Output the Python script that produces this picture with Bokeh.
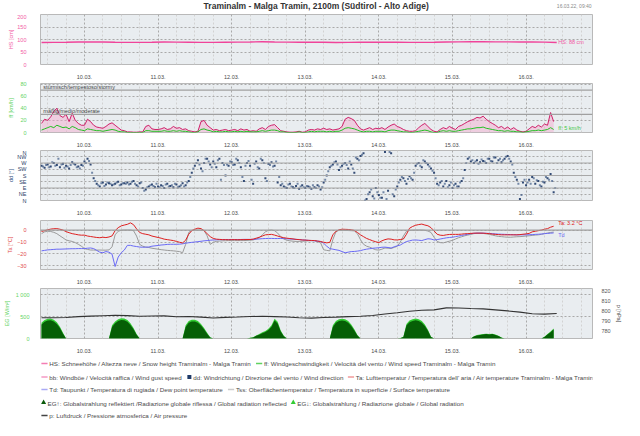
from bokeh.plotting import figure
from bokeh.layouts import column
from bokeh.models import Range1d, LinearAxis, FixedTicker, Span, Label
from bokeh.core.properties import value
from bokeh.embed import file_html
from bokeh.resources import INLINE

FONT = "Liberation Sans"
TICK_FS = "5.5px"

# ---------------- data ----------------
# hours since 10.03. 00:00 (hourly 9.03. 10:00 ... 16.03. 09:00)
hours = list(range(-14, 154))
# half-hour offsets for the second set of wind-direction readings
hours_half = [h + 0.5 for h in hours]
# 4-hourly time base for the smooth series
hours4 = list(range(-14, 155, 4))

day_ticks = [0, 24, 48, 72, 96, 120, 144]
day_labels = ["10.03.", "11.03.", "12.03.", "13.03.", "14.03.", "15.03.", "16.03."]
six_hours = [-12, -6, 6, 12, 18, 30, 36, 42, 54, 60, 66, 78, 84, 90, 102, 108, 114,
             126, 132, 138, 150, 156, 162]

hs = [88, 88.5, 89, 90, 90.5, 90, 89, 88.5, 88.5, 89, 90, 89.5, 89, 88.5, 88.5, 89,
      89.5, 90, 91, 90, 89.5, 89, 89.5, 89, 88, 88.5, 89, 89.5, 89, 89, 88.5, 88.5,
      89, 90, 90.5, 91, 91, 90.5, 90.5, 90, 90, 89.5, 88]

pres = [792.7, 792.7, 793.0, 793.9, 794.4, 794.8, 795.2, 794.9, 794.2, 794.5, 794.6,
        793.8, 794.0, 793.4, 792.5, 793.1, 793.5, 794.0, 794.2, 793.9, 793.5, 792.8,
        792.4, 793.0, 793.4, 793.9, 794.2, 795.0, 796.5, 797.7, 799.2, 800.2, 800.6,
        802.6, 802.5, 802.0, 801.6, 800.6, 799.6, 798.4, 796.8, 796.4, 797.0]

bb = [15, 22, 20, 26, 35, 40, 28, 25, 30, 18, 32, 20, 15, 12,
      12, 22, 18, 12, 9, 8, 7, 10, 14, 16, 12, 8, 4, 3, 1, 1, 0.5, 0.5, 1, 1, 10, 12, 6, 5,
      5, 6, 8, 5, 6, 10, 7, 8, 5, 6, 3, 2, 1, 2, 18, 20, 12, 8, 4, 5, 3, 4, 5, 3,
      4, 5, 3, 6, 4, 5, 2, 3, 2, 6, 8, 5, 10, 12, 13, 8, 3, 2, 1, 0.5, 0.5, 1, 2, 0.5,
      1, 4, 5, 4, 6, 5, 7, 5, 6, 4, 5, 6, 10, 22, 25, 23, 20, 12, 6, 4, 6, 8, 5, 7,
      6, 8, 5, 9, 12, 14, 10, 8, 5, 3, 2, 2, 3, 8, 12, 15, 10, 5, 2, 1, 5, 8, 6, 10,
      7, 5, 10, 12, 15, 18, 20, 22, 25, 24, 27, 22, 18, 15, 12, 8, 10, 6, 9, 5, 8, 4, 2, 1,
      2, 6, 10, 8, 12, 9, 14, 12, 33, 18]

ff = [4, 6, 8, 10, 8, 12, 10, 8, 9, 6, 10, 8, 5, 4,
      3, 6, 5, 4, 3, 3, 2, 3, 4, 5, 4, 2, 1, 1, 0, 0, 0, 0, 0, 0, 3, 3, 2, 2,
      2, 2, 3, 2, 2, 3, 2, 3, 2, 2, 1, 0, 0, 1, 5, 6, 4, 3, 1, 2, 1, 1, 2, 1,
      1, 2, 1, 2, 1, 2, 1, 1, 1, 2, 3, 2, 3, 4, 4, 3, 1, 1, 0, 0, 0, 0, 1, 0,
      0, 1, 2, 1, 2, 2, 2, 1, 2, 1, 2, 2, 4, 7, 8, 7, 6, 4, 2, 1, 2, 2, 1, 2,
      2, 2, 1, 3, 4, 4, 3, 2, 1, 1, 0, 0, 1, 2, 3, 4, 3, 1, 0, 0, 2, 3, 2, 3,
      2, 2, 3, 4, 5, 6, 6, 7, 8, 8, 9, 7, 6, 5, 4, 3, 3, 2, 3, 2, 2, 1, 1, 0,
      1, 2, 3, 3, 4, 3, 4, 5, 8, 5]

dd = [250, 235, 260, 245, 270, 255, 240, 265, 250, 230, 275, 260, 245, 255,
      280, 300, 260, 160, 120, 100, 130, 115, 125, 110, 120, 135, 115, 125, 130, 120,
      140, 110, 125, 90, 80, 100, 115, 95,
      100, 110, 90, 120, 105, 95, 115, 100, 125, 110, 140, 200, 250, 290, 230, 270,
      300, 260, 280, 240, 300, 270, 180, 250,
      275, 260, 290, 240, 140, 270, 250, 120, 280, 230, 290, 160, 265, 275, 250, 130,
      110, 100, 90, 120, 95, 105, 85, 110,
      90, 100, 85, 95, 110, 80, 130, 180, 240, 260, 280, 220, 250, 270, 230, 260,
      200, 300, 320, 340, 10, 60, 30, 90,
      40, 20, 350, 70, 340, 30, 100, 150, 160, 120, 175, 150, 250, 270, 240, 280,
      260, 230, 200, 120, 130, 100, 140, 110,
      90, 120, 100, 140, 220, 300, 280, 270, 290, 275, 285, 270, 300, 280, 310, 290,
      275, 300, 320, 280, 200, 150, 10, 130,
      110, 150, 170, 120, 140, 100, 130, 160, 190, 60]

dd_half = [245, 255, 240, 275, 250, 300, 260, 235, 245, 255, 265, 240, 230, 250,
           270, 285, 200, 140, 110, 125, 105, 130, 120, 115, 130, 110, 125, 120, 115, 135,
           120, 100, 130, 70, 95, 110, 105, 120,
           95, 105, 115, 100, 110, 120, 95, 110, 100, 130, 170, 230, 270, 260, 210, 300,
           280, 240, 265, 290, 150, 255, 260, 280,
           255, 300, 270, 170, 250, 285, 150, 265, 240, 300, 270, 140, 255, 245, 280, 170,
           120, 95, 115, 100, 90, 120, 100, 95,
           105, 95, 110, 90, 100, 95, 150, 210, 250, 275, 260, 240, 265, 255, 280, 230,
           310, 290, 330, 0, 45, 80, 15, 60,
           20, 60, 10, 350, 45, 80, 130, 170, 140, 155, 160, 200, 265, 250, 290, 270,
           245, 215, 160, 110, 140, 120, 95, 130,
           110, 100, 130, 160, 270, 310, 290, 280, 265, 295, 280, 300, 285, 310, 270, 300,
           290, 315, 300, 260, 170, 120, 40, 150,
           130, 120, 160, 145, 110, 135, 170, 150, 140, 90]

ta = [-1.2, -0.5, 0.2, 0.8, 1.1, 1.2, 0.7, 0.0, -1.3, -2.2, -3.0, -3.5, -4.0, -4.3,
      -4.2, -5.0, -5.4, -5.8, -6.2, -6.4, -6.0, -6.3, -5.8, -4.9, -0.5, 2.0, 3.5, 4.2,
      4.8, 6.0, 4.5, 1.0, -2.0, -3.0, -3.5, -4.0, -5.0, -5.6,
      -6.2, -6.8, -7.6, -8.0, -8.4, -8.8, -9.5, -10.2, -10.8, -8.5, -3.5, -0.5, 0.7, 1.6,
      1.2, -0.5, -3.0, -5.5, -7.0, -7.6, -7.8, -8.0, -8.0, -8.1,
      -8.0, -8.0, -8.1, -8.0, -8.0, -7.9, -7.9, -7.6, -6.8, -6.0, -5.0, -4.0, -3.8, -3.6,
      -4.2, -5.0, -5.8, -6.4, -6.8, -7.1, -7.4, -7.8, -8.0, -8.3,
      -8.4, -8.6, -8.7, -8.8, -9.2, -9.6, -10.2, -10.7, -10.3, -4.0, -1.0, 0.2, 0.7, 0.6,
      0.5, 0.2, -0.3, -2.0, -4.0, -5.5, -7.0, -8.0, -9.0, -9.8,
      -10.5, -9.0, -8.0, -7.4, -7.6, -8.2, -8.3, -7.9, -7.5, -3.5, 1.5, 3.0, 4.0, 4.6,
      5.0, 4.2, 3.6, 2.0, -0.7, -3.5, -4.3, -4.5, -4.0, -3.7,
      -3.6, -3.6, -3.6, -3.4, -3.1, -3.0, -2.8, -2.6, -2.6, -2.6, -2.6, -2.8, -3.0, -3.4,
      -3.6, -3.8, -4.0, -4.0, -4.0, -4.0, -4.0, -4.0, -3.8, -3.5,
      -3.2, -2.8, -1.5, -1.0, -0.5, 0.0, 0.7, 1.2, 2.4, 3.2]

td = [-17.4, -17.0, -16.6, -16.4, -16.2, -16.0, -16.0, -15.9, -15.8, -15.7, -15.6, -15.6,
      -15.5, -15.5,
      -15.5, -15.2, -15.0, -15.5, -17.0, -18.5, -19.0, -18.0, -18.5, -20.2, -30.5, -22.6,
      -19.0, -16.7, -12.8, -12.8, -13.4, -13.8, -14.2, -14.4, -14.3, -14.2, -13.5, -13.2,
      -12.9, -12.5, -12.3, -12.0, -11.9, -11.9, -11.9, -11.8, -11.5, -11.0, -10.6, -10.3,
      -10.0, -9.7, -9.4, -9.0, -8.8, -8.5, -8.3, -8.2, -8.0, -8.0, -7.9, -7.9,
      -7.9, -7.9, -7.9, -7.9, -7.8, -7.8, -7.8, -7.8, -7.6, -7.4, -7.2, -7.1, -7.0, -7.0,
      -7.1, -7.1, -7.0, -7.1, -7.3, -7.5, -7.6, -7.8, -7.9, -8.2,
      -8.4, -8.6, -8.8, -9.0, -9.3, -9.5, -11.0, -13.5, -15.5, -16.0, -16.5, -17.0, -18.0,
      -19.0, -18.5, -18.0, -17.9, -17.6, -17.2, -16.5, -16.0, -15.6, -15.2, -15.0,
      -14.8, -14.4, -14.3, -14.6, -15.0, -14.0, -13.2, -12.5, -11.0, -9.6, -9.0, -8.4,
      -8.3, -8.5, -8.8, -8.0, -7.3, -7.5, -8.3, -8.0, -7.5, -7.0, -6.5, -6.2,
      -6.0, -5.5, -5.0, -4.5, -4.0, -3.5, -3.0, -2.7, -2.6, -2.6, -2.6, -2.7, -2.8, -3.0,
      -3.2, -3.4, -3.5, -3.6, -3.7, -3.8, -3.9, -4.0, -4.0, -4.0,
      -4.0, -3.9, -3.8, -3.6, -3.5, -3.3, -3.0, -2.8, -2.6, -2.4]

tss = [-3.0, -1.5, -1.0, -1.2, -1.9, -3.0, -4.8, -6.5, -8.3, -9.0, -9.5, -10.5, -11.9, -13.5,
       -15.5, -16.2, -16.7, -16.7, -16.8, -16.7, -16.8, -16.8, -16.6, -14.0, -4.0, -1.0,
       -0.2, 0.0, 0.0, 0.0, -0.5, -5.0, -12.0, -13.5, -14.3, -14.6, -15.2, -15.6,
       -16.0, -16.4, -16.7, -17.0, -17.2, -17.4, -17.7, -18.0, -19.0, -12.0, -2.0, -0.2,
       0.0, 0.0, -0.1, -0.3, -4.8, -12.0, -10.2, -9.5, -9.2, -9.0, -8.9, -8.8,
       -8.8, -8.8, -8.8, -8.8, -8.8, -8.7, -8.5, -8.3, -7.5, -6.4, -4.0, -1.5, -0.2, 0.0,
       -0.5, -2.5, -5.5, -7.5, -8.5, -9.0, -9.3, -9.5, -9.5, -9.4,
       -9.2, -9.0, -8.9, -8.8, -9.5, -10.7, -16.5, -17.0, -17.4, -8.0, -1.5, -0.2, -0.2,
       -0.3, -0.4, -0.5, -0.7, -3.0, -8.0, -11.9, -13.5, -14.3, -15.5, -16.5,
       -16.8, -16.0, -15.0, -15.2, -15.5, -14.5, -13.6, -10.0, -5.0, -1.0, -0.3, -0.1,
       0.0, 0.0, 0.0, -0.2, -0.8, -2.0, -6.0, -9.5, -10.5, -10.7, -10.0, -9.3,
       -8.6, -7.5, -6.4, -5.6, -4.8, -4.2, -3.6, -3.0, -2.6, -2.6, -2.8, -3.2, -3.6, -4.2,
       -4.8, -5.3, -5.5, -5.8, -6.0, -6.0, -5.8, -5.6, -5.5, -5.3,
       -5.0, -4.8, -4.5, -4.2, -4.0, -3.6, -3.0, -2.5, -2.0, -1.7]

eg = [360, 420, 450, 455, 430, 370, 270, 130, 0, 0, 0, 0, 0, 0,
      0, 0, 0, 0, 0, 0, 0, 0, 0, 300, 390, 440, 460, 455, 420, 350, 240, 100,
      0, 0, 0, 0, 0, 0,
      0, 0, 0, 0, 0, 0, 0, 0, 0, 300, 400, 430, 430, 400, 330, 240, 130, 30,
      0, 0, 0, 0, 0, 0,
      0, 0, 0, 0, 0, 0, 15, 30, 70, 100, 140, 170, 220, 300, 450, 380, 180, 60,
      0, 0, 0, 0, 0, 0,
      0, 0, 0, 0, 0, 0, 0, 0, 0, 300, 400, 440, 450, 440, 400, 320, 210, 80,
      0, 0, 0, 0, 0, 0,
      0, 0, 0, 0, 0, 0, 0, 10, 40, 330, 410, 440, 455, 440, 400, 320, 200, 40,
      0, 0, 0, 0, 0, 0,
      0, 0, 0, 0, 0, 0, 0, 50, 80, 90, 100, 110, 100, 110, 90, 60, 20,
      0, 0, 0, 0, 0, 0, 0,
      0, 0, 0, 0, 0, 0, 40, 100, 160, 230]

eg_refl = [320, 380, 410, 415, 390, 330, 240, 110, 0, 0, 0, 0, 0, 0,
           0, 0, 0, 0, 0, 0, 0, 0, 0, 260, 350, 400, 420, 415, 380, 310, 210, 85,
           0, 0, 0, 0, 0, 0,
           0, 0, 0, 0, 0, 0, 0, 0, 0, 265, 360, 390, 390, 360, 295, 210, 110, 25,
           0, 0, 0, 0, 0, 0,
           0, 0, 0, 0, 0, 0, 12, 25, 60, 85, 120, 150, 195, 270, 410, 340, 160, 50,
           0, 0, 0, 0, 0, 0,
           0, 0, 0, 0, 0, 0, 0, 0, 0, 265, 360, 400, 410, 400, 360, 285, 185, 70,
           0, 0, 0, 0, 0, 0,
           0, 0, 0, 0, 0, 0, 0, 8, 35, 295, 370, 400, 415, 400, 360, 285, 175, 35,
           0, 0, 0, 0, 0, 0,
           0, 0, 0, 0, 0, 0, 0, 45, 70, 80, 90, 100, 90, 100, 80, 55, 18,
           0, 0, 0, 0, 0, 0, 0,
           0, 0, 0, 0, 0, 0, 35, 90, 145, 210]

dd_ticks = [0, 45, 90, 135, 180, 225, 270, 315, 360]
dd_labels = ["N", "NE", "E", "SE", "S", "SW", "W", "NW", "N"]

title_text = "Traminalm - Malga Tramin, 2100m (Südtirol - Alto Adige)"
stamp_text = "16.03.22, 09:40"

legend_rows = [
    [("line", "#f47db4", "HS: Schneehöhe / Altezza neve / Snow height  Traminalm - Malga Tramin"),
     ("line", "#5fd35f", "ff: Windgeschwindigkeit / Velocità del vento / Wind speed  Traminalm - Malga Tramin")],
    [("line", "#f49ac4", "bb: Windböe / Velocità raffica / Wind gust speed"),
     ("square", "#1f3a68", "dd: Windrichtung / Direzione del vento / Wind direction"),
     ("line", "#f09a9a", "Ta: Lufttemperatur / Temperatura dell' aria / Air temperature  Traminalm - Malga Tramin")],
    [("line", "#aaaaf5", "Td: Taupunkt / Temperatura di rugiada / Dew point temperature"),
     ("line", "#cccccc", "Tss: Oberflächentemperatur / Temperatura in superficie / Surface temperature")],
    [("triangle", "#0a5a0a", "EG↑: Globalstrahlung reflektiert /Radiazione globale riflessa / Global radiation reflected"),
     ("triangle", "#33cc33", "EG↓: Globalstrahlung / Radiazione globale / Global radiation")],
    [("line", "#444444", "p: Luftdruck / Pressione atmosferica / Air pressure")],
]

# approximate Arial/Liberation Sans advance widths (1/1000 em) for legend flow layout
CHAR_W = {' ': 278, "'": 191, '(': 333, ')': 333, ',': 278, '-': 333, '.': 278, '/': 278,
          ':': 278, 'A': 667, 'D': 722, 'E': 667, 'G': 778, 'H': 722, 'L': 556, 'M': 833,
          'O': 778, 'P': 667, 'R': 722, 'S': 667, 'T': 611, 'V': 667, 'W': 944,
          'a': 556, 'b': 556, 'c': 500, 'd': 556, 'e': 556, 'f': 278, 'g': 556, 'h': 556,
          'i': 222, 'j': 222, 'k': 500, 'l': 222, 'm': 833, 'n': 556, 'o': 556, 'p': 556,
          'q': 556, 'r': 333, 's': 500, 't': 278, 'u': 556, 'v': 500, 'w': 722, 'x': 500,
          'y': 500, 'z': 500, 'ä': 556, 'ö': 556, 'ü': 556, 'à': 556, 'ß': 611,
          '↑': 1000, '↓': 1000}
RENDER_FUDGE = 1.09   # small-size glyph advances render wider than nominal metrics
SYM_W = {"line": 10, "square": 8, "triangle": 8}
ITEM_GAP = 10


def text_em(s):
    return sum(CHAR_W.get(c, 556) for c in s) / 1000.0 * RENDER_FUDGE


# font size so that the widest legend row spans about 620 px
fits = []
for items in legend_rows:
    fixed = sum(SYM_W[k] for k, _, _ in items) + ITEM_GAP * (len(items) - 1)
    ems = sum(text_em(t) for _, _, t in items)
    fits.append((620 - fixed) / ems)
LEG_FS = round(min(6.6, min(fits)), 2)

# ---------------- layout helpers ----------------
X0, X1 = -14.333, 165.667


def panel(height, top, y0, y1, yticks, ylabel, color, lab_standoff, tick_standoff=8):
    p = figure(width=624, height=height, x_range=Range1d(X0, X1), y_range=Range1d(y0, y1),
               output_backend="svg", toolbar_location=None,
               min_border_left=32, min_border_right=31, min_border_top=top,
               min_border_bottom=12)
    p.background_fill_color = "#e9edf0"
    p.border_fill_color = "white"
    p.outline_line_color = "#b9b9b9"
    xa = p.xaxis[0]
    xa.ticker = FixedTicker(ticks=day_ticks, minor_ticks=six_hours)
    xa.major_label_overrides = dict(zip(day_ticks, day_labels))
    xa.axis_line_color = None
    xa.major_tick_line_color = None
    xa.minor_tick_line_color = None
    xa.major_label_standoff = 4
    xa.major_label_text_font = FONT
    xa.major_label_text_font_size = TICK_FS
    xa.major_label_text_color = "#4a4a4a"
    ya = p.yaxis[0]
    ya.ticker = FixedTicker(ticks=yticks)
    ya.axis_line_color = None
    ya.major_tick_line_color = None
    ya.minor_tick_line_color = None
    ya.major_label_standoff = tick_standoff
    ya.major_label_text_font = FONT
    ya.major_label_text_font_size = TICK_FS
    ya.major_label_text_color = color
    ya.axis_label = ylabel
    ya.axis_label_text_font = FONT
    ya.axis_label_text_font_size = TICK_FS
    ya.axis_label_text_font_style = "normal"
    ya.axis_label_text_color = color
    ya.axis_label_standoff = lab_standoff
    p.xgrid.grid_line_color = "#a9a9a9"
    p.xgrid.grid_line_dash = "2 2"
    p.xgrid.minor_grid_line_color = "#d2d2d2"
    p.xgrid.minor_grid_line_dash = "2 2"
    p.ygrid.grid_line_color = "#a9a9a9"
    p.ygrid.grid_line_dash = "2 2"
    return p


def side_label(p, x, y, text, color):
    p.add_layout(Label(x=x, y=y, text=text, text_font=FONT, text_font_size=TICK_FS,
                       text_color=color, text_baseline="middle", text_align="left"))


# ---------------- top strip: title + timestamp ----------------
top = figure(width=624, height=14, x_range=Range1d(0, 624), y_range=Range1d(0, 14),
             output_backend="svg", toolbar_location=None, min_border=0,
             x_axis_location=None, y_axis_location=None)
top.outline_line_color = None
top.background_fill_color = "white"
top.xgrid.visible = False
top.ygrid.visible = False
top.text(x=[312], y=[8.2], text=[title_text], text_font=value(FONT),
         text_font_size=value("8.5px"), text_font_style="bold", text_color="#333333",
         text_align="center", text_baseline="middle")
top.text(x=[623], y=[9], text=[stamp_text], text_font=value(FONT),
         text_font_size=value("5px"), text_color="#8a8a8a",
         text_align="right", text_baseline="middle")

# ---------------- panel 1: snow height ----------------
p1 = panel(67, 0, 0, 200, [0, 50, 100, 150, 200], "HS [cm]", "#f25aa5", 0)
p1.line(hours4, hs, line_color="#f0449a", line_width=1.3)
side_label(p1, 154.5, 92, "HS: 88 cm", "#f25aa5")

# ---------------- panel 2: wind ----------------
p2 = panel(68, 2, 0, 81, [0, 20, 40, 60, 80], "ff [km/h]", "#5fd35f", 3)
for lvl in [30, 70]:
    p2.add_layout(Span(location=lvl, dimension="width", line_color="#a0a0a0", line_width=1.2))
p2.add_layout(Label(x=-13.4, y=71, text="stürmisch/tempestoso/stormy", text_font=FONT,
                    text_font_size=TICK_FS, text_color="#444444", text_baseline="bottom"))
p2.add_layout(Label(x=-13.4, y=31, text="mäßig/medio/moderate", text_font=FONT,
                    text_font_size=TICK_FS, text_color="#444444", text_baseline="bottom"))
p2.varea(x=hours, y1=0, y2=bb, fill_color="#f3a6ca", fill_alpha=0.45)
p2.line(hours, bb, line_color="#cc0a5a", line_width=0.9)
p2.line(hours, ff, line_color="#22c022", line_width=1)
side_label(p2, 154.5, 8, "ff: 5 km/h", "#44c844")

# ---------------- panel 3: wind direction ----------------
p3 = panel(68, 1, 0, 360, dd_ticks, "dd [°]", "#3b5a86", 0)
p3.yaxis[0].major_label_overrides = dict(zip(dd_ticks, dd_labels))
p3.yaxis[0].major_label_text_color = "#2c3e66"
for lvl in [90, 180, 270]:
    p3.add_layout(Span(location=lvl, dimension="width", line_color="#a8a8a8", line_width=1))
p3.scatter(hours, dd, marker="square", size=2, fill_color="#1f3a68",
           line_color=None, fill_alpha=0.9)
p3.scatter(hours_half, dd_half, marker="square", size=2, fill_color="#33507e",
           line_color=None, fill_alpha=0.65)

# ---------------- panel 4: temperatures ----------------
p4 = panel(69, 3, -33, 8, [-30, -20, -10, 0], "Ta [°C]", "#e04848", 1)
p4.add_layout(Span(location=0, dimension="width", line_color="#a0a0a0", line_width=1.2))
p4.line(hours, tss, line_color="#9a9a9a", line_width=1)
p4.line(hours, td, line_color="#6a6af5", line_width=1)
p4.line(hours, ta, line_color="#dd2020", line_width=1)
side_label(p4, 154.5, 5.7, "Ta: 3.2 °C", "#dd2020")
side_label(p4, 154.5, -4.3, "Td", "#6a6af5")

# ---------------- panel 5: radiation + pressure ----------------
p5 = panel(69, 2, 0, 1140, [0, 500, 1000], "EG [W/m²]", "#66d466", 3, tick_standoff=5)
p5.yaxis[0].major_label_overrides = {1000: "1 000"}
p5.extra_y_ranges = {"p": Range1d(772, 822)}
pax = LinearAxis(y_range_name="p", ticker=FixedTicker(ticks=[780, 790, 800, 810, 820]),
                 axis_label="p [hPa]")
pax.axis_line_color = None
pax.major_tick_line_color = None
pax.minor_tick_line_color = None
pax.major_label_standoff = 3
pax.major_label_text_font = FONT
pax.major_label_text_font_size = TICK_FS
pax.major_label_text_color = "#555555"
pax.axis_label_text_font = FONT
pax.axis_label_text_font_size = TICK_FS
pax.axis_label_text_font_style = "normal"
pax.axis_label_text_color = "#444444"
pax.axis_label_standoff = 2
p5.add_layout(pax, "right")
p5.varea(x=hours, y1=0, y2=eg, fill_color="#33cc33")
p5.varea(x=hours, y1=0, y2=eg_refl, fill_color="#065f06")
p5.line(hours4, pres, y_range_name="p", line_color="#333333", line_width=1.1)

# ---------------- legend ----------------
leg = figure(width=624, height=65, x_range=Range1d(0, 624), y_range=Range1d(0, 65),
             output_backend="svg", toolbar_location=None, min_border=0,
             x_axis_location=None, y_axis_location=None)
leg.outline_line_color = None
leg.background_fill_color = "white"
leg.xgrid.visible = False
leg.ygrid.visible = False
row_y = [57, 43.5, 31, 17.5, 5]
for ry, items in zip(row_y, legend_rows):
    x = 0
    for kind, col, txt in items:
        if kind == "line":
            leg.segment(x0=[x + 1], y0=[ry], x1=[x + 8], y1=[ry], line_color=col, line_width=1.5)
        elif kind == "square":
            leg.scatter([x + 3.5], [ry], marker="square", size=4, fill_color=col, line_color=None)
        else:
            leg.scatter([x + 3.5], [ry + 0.5], marker="triangle", size=5, fill_color=col,
                        line_color=None)
        tx = x + SYM_W[kind]
        leg.text(x=[tx], y=[ry], text=[txt], text_font=value(FONT),
                 text_font_size=value(f"{LEG_FS}px"), text_color="#4a4a4a",
                 text_baseline="middle", text_align="left")
        x = tx + text_em(txt) * LEG_FS + ITEM_GAP

layout = column(top, p1, p2, p3, p4, p5, leg)
open("out.html", "w").write(file_html(layout, INLINE))
